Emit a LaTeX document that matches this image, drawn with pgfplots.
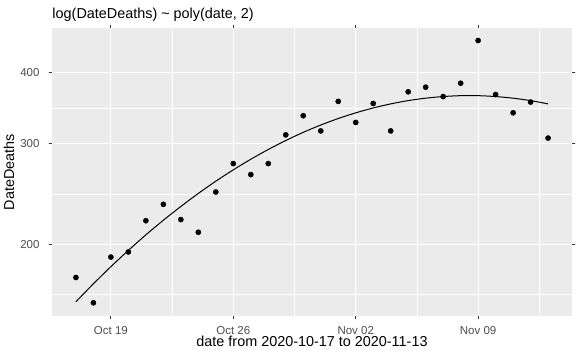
\documentclass[border=0pt]{standalone}
\usepackage{pgfplots}
\pgfplotsset{compat=1.18}
\usepackage{fontspec}
\setmainfont{Liberation Sans}
\definecolor{panelbg}{HTML}{EBEBEB}
\definecolor{gtext}{HTML}{4D4D4D}
\definecolor{gtick}{HTML}{333333}
\begin{document}
\begin{tikzpicture}
\path[use as bounding box] (-52.3bp,-41.3bp) rectangle (526.7bp,315.7bp);
\begin{axis}[
  at={(0,0)}, anchor=south west,
  scale only axis, width=519.4bp, height=287.4bp,
  xmin=-1.35, xmax=28.35,
  ymode=log, ymin=150, ymax=478,
  axis background/.style={fill=panelbg},
  axis line style={draw=none},
  xtick={2,9,16,23}, xticklabels={Oct 19,Oct 26,Nov 02,Nov 09},
  ytick={200,300,400}, yticklabels={200,300,400},
  minor xtick={5.5,12.5,19.5,26.5},
  minor ytick={163.3,244.9,346.4},
  grid=both,
  major grid style={draw=white, line width=1.2bp},
  minor grid style={draw=white, line width=0.6bp},
  tick align=outside,
  major tick length=3.6bp, minor tick length=0pt,
  tick style={draw=gtick, line width=0.8bp},
  /pgf/number format/assume math mode=true,
  xticklabel style={font=\fontsize{11.5bp}{13bp}\selectfont, text=gtext, anchor=base, inner sep=0pt, yshift=-15bp},
  yticklabel style={font=\fontsize{11.5bp}{13bp}\selectfont, text=gtext, anchor=east, inner sep=0pt, xshift=-9bp},
  xlabel={date from 2020-10-17 to 2020-11-13},
  xlabel style={font=\fontsize{14.4bp}{17bp}\selectfont, at={(axis description cs:0.5,-0.1079)}, anchor=base, inner sep=0pt},
  ylabel={DateDeaths},
  ylabel style={font=\fontsize{14.4bp}{17bp}\selectfont, at={(axis description cs:-0.0737,0.5)}, anchor=base, inner sep=0pt},
  title={log(DateDeaths) \textasciitilde{} poly(date, 2)},
  every axis title shift=0pt,
  title style={font=\fontsize{14.4bp}{17bp}\selectfont, at={(axis description cs:0,1.0324)}, anchor=base west, inner sep=0pt},
  clip=false,
]
\addplot[only marks, mark=*, mark size=2.6bp, black] coordinates {
(0,175) (1,158) (2,190) (3,194) (4,220) (5,235) (6,221) (7,210)
(8,247) (9,277) (10,265) (11,277) (12,311) (13,336) (14,316) (15,356)
(16,327) (17,353) (18,316) (19,370) (20,377) (21,363) (22,383) (23,455)
(24,366) (25,340) (26,355) (27,307)
};
\addplot[black, line width=1bp, no marks, smooth] coordinates {
(0,158.7) (1,170.6) (2,182.8) (3,195.2) (4,207.8) (5,220.4) (6,233.0)
(7,245.6) (8,258.0) (9,270.1) (10,281.9) (11,293.2) (12,304.0) (13,314.2)
(14,323.6) (15,332.2) (16,339.9) (17,346.7) (18,352.4) (19,357.1)
(20,360.6) (21,363.0) (22,364.3) (23,364.3) (24,363.0) (25,360.6)
(26,357.1) (27,352.4)
};
\end{axis}
\end{tikzpicture}
\end{document}
